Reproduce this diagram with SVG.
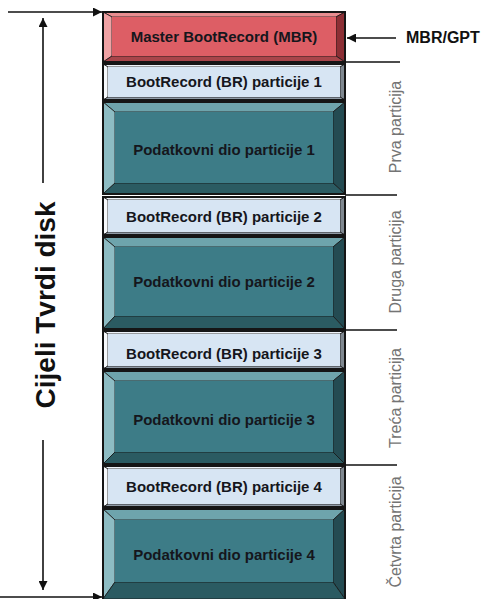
<svg xmlns="http://www.w3.org/2000/svg" width="489" height="599" viewBox="0 0 489 599">
<defs>
<style>
.lbl{font-family:"Liberation Sans",Arial,sans-serif;font-weight:bold;font-size:15px;fill:#15161c;text-anchor:middle}
.side{font-family:"Liberation Sans",Arial,sans-serif;font-size:16px;fill:#747474;text-anchor:middle}
.big{font-family:"Liberation Sans",Arial,sans-serif;font-weight:bold;font-size:28px;fill:#111;text-anchor:middle}
.gpt{font-family:"Liberation Sans",Arial,sans-serif;font-weight:bold;font-size:16px;fill:#111}
.ol{fill:none;stroke:#151515;stroke-width:2}
.edge{stroke:#151515;stroke-width:0.8}
.mbr .t{fill:#e98d90}.mbr .l{fill:#f0a2a4}.mbr .r{fill:#8c2f35}.mbr .b{fill:#a8454a}.mbr .f{fill:#dd5e65}
.br .t{fill:#eef3f9}.br .l{fill:#f6f9fc}.br .r{fill:#7f8890}.br .b{fill:#8f9aa5}.br .f{fill:#d7e5f3}
.dat .t{fill:#6ea4ac}.dat .l{fill:#8dbcc3}.dat .r{fill:#244b52}.dat .b{fill:#2b5b62}.dat .f{fill:#3d7c87}
.ln{stroke:#111;stroke-width:1.6;fill:none}
</style>
<marker id="ah" viewBox="0 0 10 10" refX="10" refY="5" markerWidth="10" markerHeight="9" markerUnits="userSpaceOnUse" orient="auto">
<path d="M0,0 L10,5 L0,10 z" fill="#111"/>
</marker>
</defs>
<rect width="489" height="599" fill="#fff"/>

<g id="mbr" class="mbr">
<polygon class="t edge" points="103,12 345,12 336,17 112,17"/>
<polygon class="l edge" points="103,12 112,17 112,56 103,62"/>
<polygon class="r edge" points="345,12 345,62 336,56 336,17"/>
<polygon class="b edge" points="103,62 112,56 336,56 345,62"/>
<rect class="f" x="112" y="17" width="224" height="39"/>
<rect class="ol" x="103" y="12" width="242" height="50"/>
<text class="lbl" x="224" y="42">Master BootRecord (MBR)</text>
</g>

<g id="br1" class="br">
<polygon class="t edge" points="103,64 345,64 340,67 108,67"/>
<polygon class="l edge" points="103,64 108,67 108,97 103,100"/>
<polygon class="r edge" points="345,64 345,100 340,97 340,67"/>
<polygon class="b edge" points="103,100 108,97 340,97 345,100"/>
<rect class="f" x="108" y="67" width="232" height="30"/>
<rect class="ol" x="103" y="64" width="242" height="36"/>
<text class="lbl" x="224" y="87">BootRecord (BR) particije 1</text>
</g>

<g id="dat1" class="dat">
<polygon class="t edge" points="103,102 345,102 333,112 115,112"/>
<polygon class="l edge" points="103,102 115,112 115,183 103,194"/>
<polygon class="r edge" points="345,102 345,194 333,183 333,112"/>
<polygon class="b edge" points="103,194 115,183 333,183 345,194"/>
<rect class="f" x="115" y="112" width="218" height="71"/>
<rect class="ol" x="103" y="102" width="242" height="92"/>
<text class="lbl" x="224" y="155">Podatkovni dio particije 1</text>
</g>

<g id="br2" class="br">
<polygon class="t edge" points="103,197 345,197 340,200 108,200"/>
<polygon class="l edge" points="103,197 108,200 108,232 103,235"/>
<polygon class="r edge" points="345,197 345,235 340,232 340,200"/>
<polygon class="b edge" points="103,235 108,232 340,232 345,235"/>
<rect class="f" x="108" y="200" width="232" height="32"/>
<rect class="ol" x="103" y="197" width="242" height="38"/>
<text class="lbl" x="224" y="222">BootRecord (BR) particije 2</text>
</g>

<g id="dat2" class="dat">
<polygon class="t edge" points="103,237 345,237 333,247 115,247"/>
<polygon class="l edge" points="103,237 115,247 115,316 103,329"/>
<polygon class="r edge" points="345,237 345,329 333,316 333,247"/>
<polygon class="b edge" points="103,329 115,316 333,316 345,329"/>
<rect class="f" x="115" y="247" width="218" height="69"/>
<rect class="ol" x="103" y="237" width="242" height="92"/>
<text class="lbl" x="224" y="287">Podatkovni dio particije 2</text>
</g>

<g id="br3" class="br">
<polygon class="t edge" points="103,331 345,331 340,334 108,334"/>
<polygon class="l edge" points="103,331 108,334 108,366 103,369"/>
<polygon class="r edge" points="345,331 345,369 340,366 340,334"/>
<polygon class="b edge" points="103,369 108,366 340,366 345,369"/>
<rect class="f" x="108" y="334" width="232" height="32"/>
<rect class="ol" x="103" y="331" width="242" height="38"/>
<text class="lbl" x="224" y="359">BootRecord (BR) particije 3</text>
</g>

<g id="dat3" class="dat">
<polygon class="t edge" points="103,371 345,371 333,381 115,381"/>
<polygon class="l edge" points="103,371 115,381 115,452 103,464"/>
<polygon class="r edge" points="345,371 345,464 333,452 333,381"/>
<polygon class="b edge" points="103,464 115,452 333,452 345,464"/>
<rect class="f" x="115" y="381" width="218" height="71"/>
<rect class="ol" x="103" y="371" width="242" height="93"/>
<text class="lbl" x="224" y="425">Podatkovni dio particije 3</text>
</g>

<g id="br4" class="br">
<polygon class="t edge" points="103,466 345,466 340,469 108,469"/>
<polygon class="l edge" points="103,466 108,469 108,504 103,507"/>
<polygon class="r edge" points="345,466 345,507 340,504 340,469"/>
<polygon class="b edge" points="103,507 108,504 340,504 345,507"/>
<rect class="f" x="108" y="469" width="232" height="35"/>
<rect class="ol" x="103" y="466" width="242" height="41"/>
<text class="lbl" x="224" y="492">BootRecord (BR) particije 4</text>
</g>

<g id="dat4" class="dat">
<polygon class="t edge" points="103,509 345,509 333,520 115,520"/>
<polygon class="l edge" points="103,509 115,520 115,582 103,599"/>
<polygon class="r edge" points="345,509 345,599 333,582 333,520"/>
<polygon class="b edge" points="103,599 115,582 333,582 345,599"/>
<rect class="f" x="115" y="520" width="218" height="62"/>
<rect class="ol" x="103" y="509" width="242" height="91"/>
<text class="lbl" x="224" y="560">Podatkovni dio particije 4</text>
</g>

<g id="labels">
<text class="big" transform="translate(55,305) rotate(-90)">Cijeli Tvrdi disk</text>
<text class="gpt" x="406" y="43">MBR/GPT</text>
<text class="side" transform="translate(401,127) rotate(-90)">Prva particija</text>
<text class="side" transform="translate(401,262) rotate(-90)">Druga particija</text>
<text class="side" transform="translate(401,398) rotate(-90)">Treća particija</text>
<text class="side" transform="translate(401,532) rotate(-90)">Četvrta particija</text>
</g>

<g id="connectors">
<line class="ln" x1="8" y1="12" x2="102" y2="12" marker-end="url(#ah)"/>
<line class="ln" x1="43" y1="183" x2="43" y2="18" marker-end="url(#ah)"/>
<line class="ln" x1="43" y1="440" x2="43" y2="590" marker-end="url(#ah)"/>
<line class="ln" x1="0" y1="597" x2="102" y2="597" marker-end="url(#ah)"/>
<line class="ln" x1="396" y1="38" x2="347" y2="38" marker-end="url(#ah)"/>
<line class="ln" x1="345" y1="62" x2="400" y2="62"/>
<line class="ln" x1="345" y1="195" x2="397" y2="195"/>
<line class="ln" x1="345" y1="330" x2="397" y2="330"/>
<line class="ln" x1="345" y1="465" x2="397" y2="465"/>
</g>
</svg>
